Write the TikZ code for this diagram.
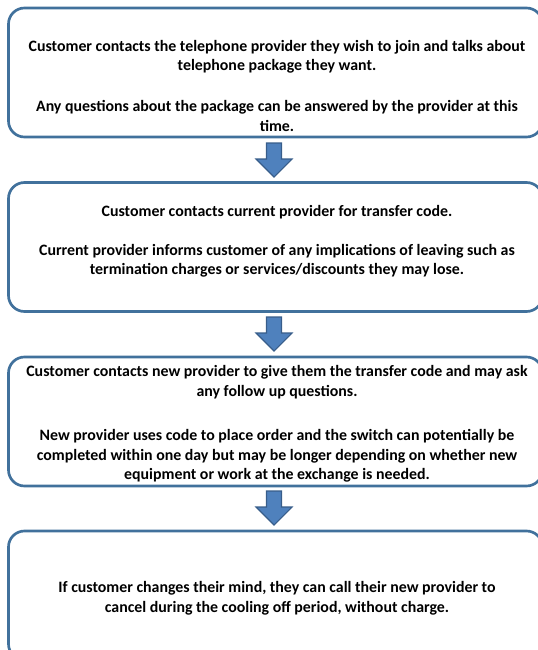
\documentclass[tikz,border=0pt]{standalone}
\usepackage{fontspec}
\setmainfont{Carlito}
\usepackage{tikz}
\usetikzlibrary{positioning}
\usepackage{xcolor}
\definecolor{boxblue}{HTML}{41719C}
\definecolor{arrowfill}{HTML}{4F81BD}
\definecolor{arrowline}{HTML}{385D8A}
\tikzstyle{stepbox} = [draw=boxblue, line width=2pt, rounded corners=12pt, minimum width=400.5pt, minimum height=96.75pt, inner sep=0pt]
\tikzstyle{steptext} = [font=\bfseries\fontsize{11.9}{14.6}\selectfont, align=center, inner sep=0pt]
\tikzstyle{flow} = [fill=arrowfill, draw=arrowline, line width=0.8pt, line join=miter]

\begin{document}
\begin{tikzpicture}[x=0.75pt, y=-0.75pt]
        \useasboundingbox (0,0) rectangle (538,650);
        \node[stepbox] (box1) at (275.5,72.5) {};
        \node[stepbox] (box2) at (275.5,247) {};
        \node[stepbox] (box3) at (275.5,421.5) {};
        \node[stepbox] (box4) at (275.5,595.5) {};
        \node[steptext] (join) at (277,57) {Customer contacts the telephone provider they wish to join and talks about\\ telephone package they want.};
        \node[steptext] (questions) at (277,116) {Any questions about the package can be answered by the provider at this\\ time.};
        \node[steptext] (code) at (277,212) {Customer contacts current provider for transfer code.};
        \node[steptext] (implications) at (277,260.5) {Current provider informs customer of any implications of leaving such as\\ termination charges or services/discounts they may lose.};
        \node[steptext] (give) at (277,382) {Customer contacts new provider to give them the transfer code and may ask\\ any follow up questions.};
        \node[steptext] (switch) at (277,456) {New provider uses code to place order and the switch can potentially be\\ completed within one day but may be longer depending on whether new\\ equipment or work at the exchange is needed.};
        \node[steptext] (cancel) at (277,598.5) {If customer changes their mind, they can call their new provider to\\ cancel during the cooling off period, without charge.};
        \foreach \t in {143,317,491}
            \filldraw[flow] (266.5,\t) -- (281.5,\t) -- (281.5,\t+16) -- (292,\t+16) -- (274,\t+34) -- (256,\t+16) -- (266.5,\t+16) -- cycle;
    \end{tikzpicture}
\end{document}
